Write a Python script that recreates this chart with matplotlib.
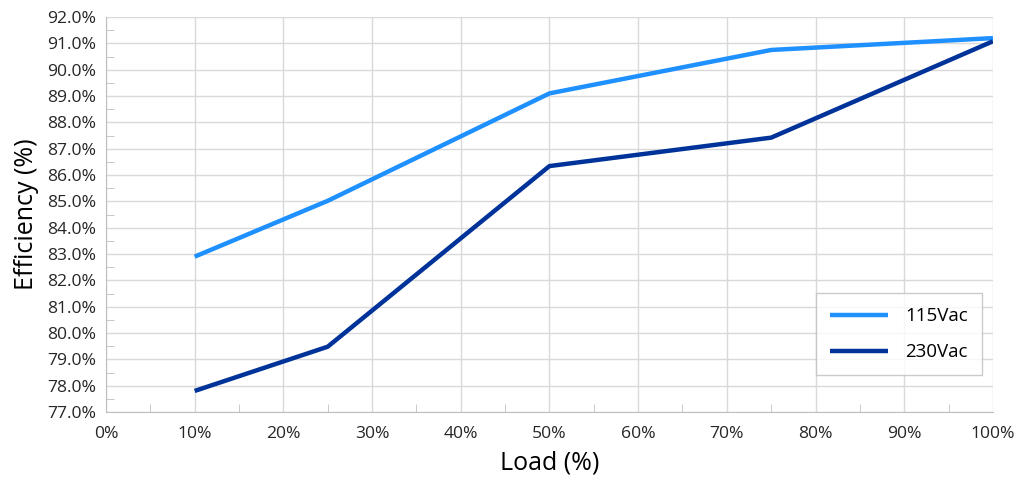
import matplotlib
matplotlib.use("Agg")
import matplotlib.pyplot as plt
from matplotlib.ticker import MultipleLocator, FuncFormatter

# data
load = [10, 25, 50, 75, 100]
eff_115 = [82.9, 85.02, 89.1, 90.75, 91.2]
eff_230 = [77.8, 79.48, 86.34, 87.42, 91.08]
series_names = ["115Vac", "230Vac"]

plt.rcParams['font.family'] = ['Open Sans', 'DejaVu Sans']

fig = plt.figure(figsize=(10.16, 4.87), dpi=100)
ax = fig.add_axes([0.1043, 0.154, 0.873, 0.811])

ax.plot(load, eff_115, color='#1E90FF', lw=3.2, label=series_names[0], solid_capstyle='butt')
ax.plot(load, eff_230, color='#003399', lw=3.2, label=series_names[1], solid_capstyle='butt')

ax.set_xlim(0, 100)
ax.set_ylim(77, 92)
ax.xaxis.set_major_locator(MultipleLocator(10))
ax.xaxis.set_minor_locator(MultipleLocator(5))
ax.yaxis.set_major_locator(MultipleLocator(1))
ax.yaxis.set_minor_locator(MultipleLocator(0.5))
ax.xaxis.set_major_formatter(FuncFormatter(lambda v, p: "%d%%" % v))
ax.yaxis.set_major_formatter(FuncFormatter(lambda v, p: "%.1f%%" % v))

ax.grid(True, which='major', color='#d9d9d9', lw=1.0)
ax.set_axisbelow(True)
for s in ['top', 'right']:
    ax.spines[s].set_visible(False)
for s in ['left', 'bottom']:
    ax.spines[s].set_color('#bfbfbf')
ax.tick_params(which='major', length=0, labelsize=12.6, colors='#262626', pad=7)
ax.tick_params(axis='x', which='major', pad=10)
ax.tick_params(which='minor', direction='in', length=6, color='#bfbfbf')

ax.set_xlabel("Load (%)", fontsize=18, labelpad=6)
ax.set_ylabel("Efficiency (%)", fontsize=18, labelpad=6)

leg = ax.legend(loc='center', bbox_to_anchor=(0.894, 0.197), fontsize=13.5,
                frameon=True, fancybox=False, handlelength=3.1, borderpad=0.75,
                labelspacing=0.95, handletextpad=0.9, borderaxespad=0)
leg.get_frame().set_edgecolor('#bfbfbf')
leg.get_frame().set_linewidth(1.0)

fig.savefig("out.png", dpi=100)
